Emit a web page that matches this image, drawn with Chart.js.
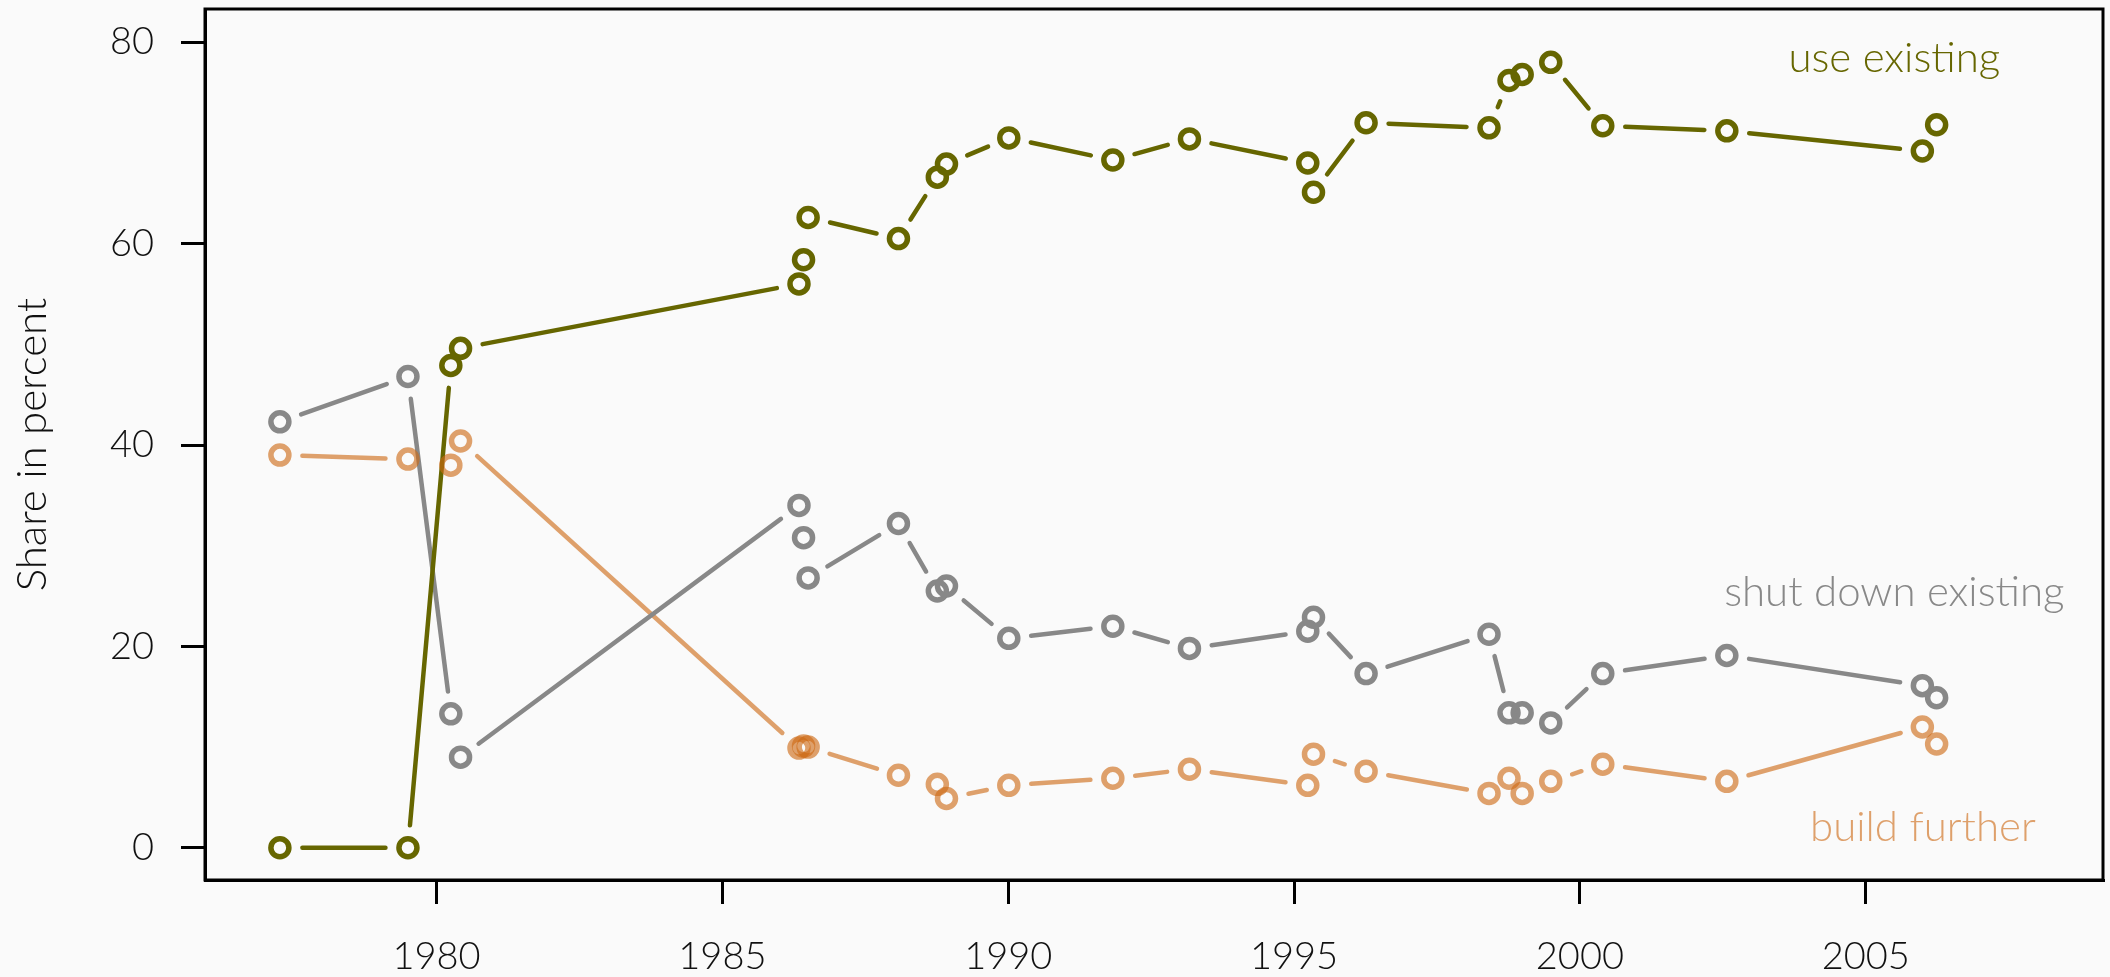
<!DOCTYPE html>
<html>
<head>
<meta charset="utf-8">
<script src="https://cdn.jsdelivr.net/npm/chart.js@4.4.1/dist/chart.umd.min.js"></script>
<style>
    html, body { margin: 0; padding: 0; background: #fafafa; }
    #wrap { width: 2110px; height: 977px; position: relative; }
</style>
</head>
<body>
<div id="wrap"><canvas id="chart"></canvas></div>
<script>
/* ---------------- DATA ---------------- */
const years = [1977.26, 1979.5, 1980.25, 1980.42, 1986.34, 1986.42, 1986.5, 1988.08, 1988.76, 1988.92,
               1990.01, 1991.83, 1993.17, 1995.24, 1995.34, 1996.26, 1998.41, 1998.76, 1998.99, 1999.49,
               2000.4, 2002.57, 2005.99, 2006.24];
const useExisting  = [0, 0, 47.9, 49.6, 56.0, 58.4, 62.6, 60.5, 66.6, 67.9, 70.5, 68.3, 70.4, 68.0, 65.1, 72.0,
                      71.5, 76.2, 76.8, 78.0, 71.7, 71.2, 69.2, 71.8];
const shutDown     = [42.3, 46.8, 13.3, 9.0, 34.0, 30.8, 26.8, 32.2, 25.5, 26.0, 20.8, 22.0, 19.8, 21.5, 22.9, 17.3,
                      21.2, 13.4, 13.4, 12.4, 17.3, 19.1, 16.1, 14.9];
const buildFurther = [39.0, 38.6, 38.0, 40.4, 9.9, 10.1, 10.0, 7.2, 6.3, 4.9, 6.2, 6.9, 7.8, 6.2, 9.3, 7.6,
                      5.4, 6.9, 5.4, 6.6, 8.3, 6.6, 12.0, 10.3];

const xTicks = [1980, 1985, 1990, 1995, 2000, 2005];
const yTicks = [0, 20, 40, 60, 80];

// series labels written inside the plot (year, value of baseline)
const labelText = ["use existing", "shut down existing", "build further"];
const labelYear = [2005.5, 2005.5, 2006.0];
const labelValue = [77.0, 24.0, 0.65];

const OLIVE = "#666600";
const GRAY = "#888888";
const ORANGE = "rgba(205,105,20,0.62)";
const FONT = "Lato";

function pts(vals) {
    return years.map((x, i) => ({ x: x, y: vals[i] }));
}

/* ---------------- PLUGINS ---------------- */
// R style type="b": segments stop short of each point
const gapLines = {
    id: "gapLines",
    beforeDatasetsDraw(chart) {
        const ctx = chart.ctx;
        const gap = 22.5;
        const order = [2, 1, 0];
        ctx.save();
        ctx.lineCap = "round";
        order.forEach(di => {
            const ds = chart.data.datasets[di];
            const els = chart.getDatasetMeta(di).data;
            ctx.strokeStyle = ds.borderColor;
            ctx.lineWidth = ds.segWidth;
            for (let i = 0; i < els.length - 1; i++) {
                const a = els[i], b = els[i + 1];
                const dx = b.x - a.x, dy = b.y - a.y;
                const d = Math.sqrt(dx * dx + dy * dy);
                if (d <= 2 * gap) continue;
                const ux = dx / d, uy = dy / d;
                ctx.beginPath();
                ctx.moveTo(a.x + ux * gap, a.y + uy * gap);
                ctx.lineTo(b.x - ux * gap, b.y - uy * gap);
                ctx.stroke();
            }
        });
        ctx.restore();
    },
    afterDatasetsDraw(chart) {
        const ctx = chart.ctx;
        const xs = chart.scales.x, ys = chart.scales.y;
        const colors = [OLIVE, GRAY, ORANGE];
        ctx.save();
        ctx.font = "300 42px " + FONT;
        ctx.textAlign = "center";
        ctx.textBaseline = "alphabetic";
        labelText.forEach((t, i) => {
            ctx.fillStyle = colors[i];
            ctx.fillText(t, xs.getPixelForValue(labelYear[i]), ys.getPixelForValue(labelValue[i]));
        });
        // full box round the plot
        const a = chart.chartArea;
        ctx.strokeStyle = "#000";
        ctx.lineWidth = 3;
        ctx.strokeRect(a.left, a.top, a.right - a.left, a.bottom - a.top);
        ctx.restore();
    }
};

/* ---------------- CHART ---------------- */
function series(label, vals, color, w) {
    return {
        label: label,
        data: pts(vals),
        borderColor: color,
        pointBorderColor: color,
        pointBackgroundColor: "rgba(0,0,0,0)",
        pointRadius: 9,
        pointBorderWidth: 5.5,
        pointStyle: "circle",
        showLine: false,
        segWidth: w
    };
}

const tickFont = { family: FONT, size: 38, weight: "300" };

new Chart(document.getElementById("chart"), {
    type: "scatter",
    data: {
        datasets: [
            series("use existing", useExisting, OLIVE, 4.5),
            series("shut down existing", shutDown, GRAY, 4.5),
            series("build further", buildFurther, ORANGE, 4.5)
        ]
    },
    options: {
        responsive: true,
        maintainAspectRatio: false,
        animation: false,
        layout: { autoPadding: false, padding: { top: 9, right: 7, left: 0, bottom: 0 } },
        plugins: {
            legend: { display: false },
            tooltip: { enabled: false }
        },
        scales: {
            x: {
                type: "linear",
                min: 1975.95,
                max: 2009.15,
                afterBuildTicks: s => { s.ticks = xTicks.map(v => ({ value: v })); },
                afterFit: s => { s.height = 97; s.paddingLeft = 0; s.paddingRight = 0; },
                ticks: {
                    font: tickFont,
                    color: "#111",
                    padding: 30,
                    maxRotation: 0,
                    callback: v => String(v)
                },
                grid: { drawOnChartArea: false, drawTicks: true, tickLength: 24, color: "#000", lineWidth: 3 },
                border: { display: true, color: "#000", width: 3 }
            },
            y: {
                type: "linear",
                min: -3.2,
                max: 83.3,
                afterBuildTicks: s => { s.ticks = yTicks.map(v => ({ value: v })); },
                afterFit: s => { s.width = 205; s.paddingTop = 0; s.paddingBottom = 0; },
                ticks: {
                    font: tickFont,
                    color: "#111",
                    padding: 27,
                    callback: v => String(v)
                },
                title: {
                    display: true,
                    text: "Share in percent",
                    font: { family: FONT, size: 42, weight: "300" },
                    color: "#111",
                    padding: { top: 7, bottom: 0 }
                },
                grid: { drawOnChartArea: false, drawTicks: true, tickLength: 24, color: "#000", lineWidth: 3 },
                border: { display: true, color: "#000", width: 3 }
            }
        }
    },
    plugins: [gapLines]
});
</script>
</body>
</html>
